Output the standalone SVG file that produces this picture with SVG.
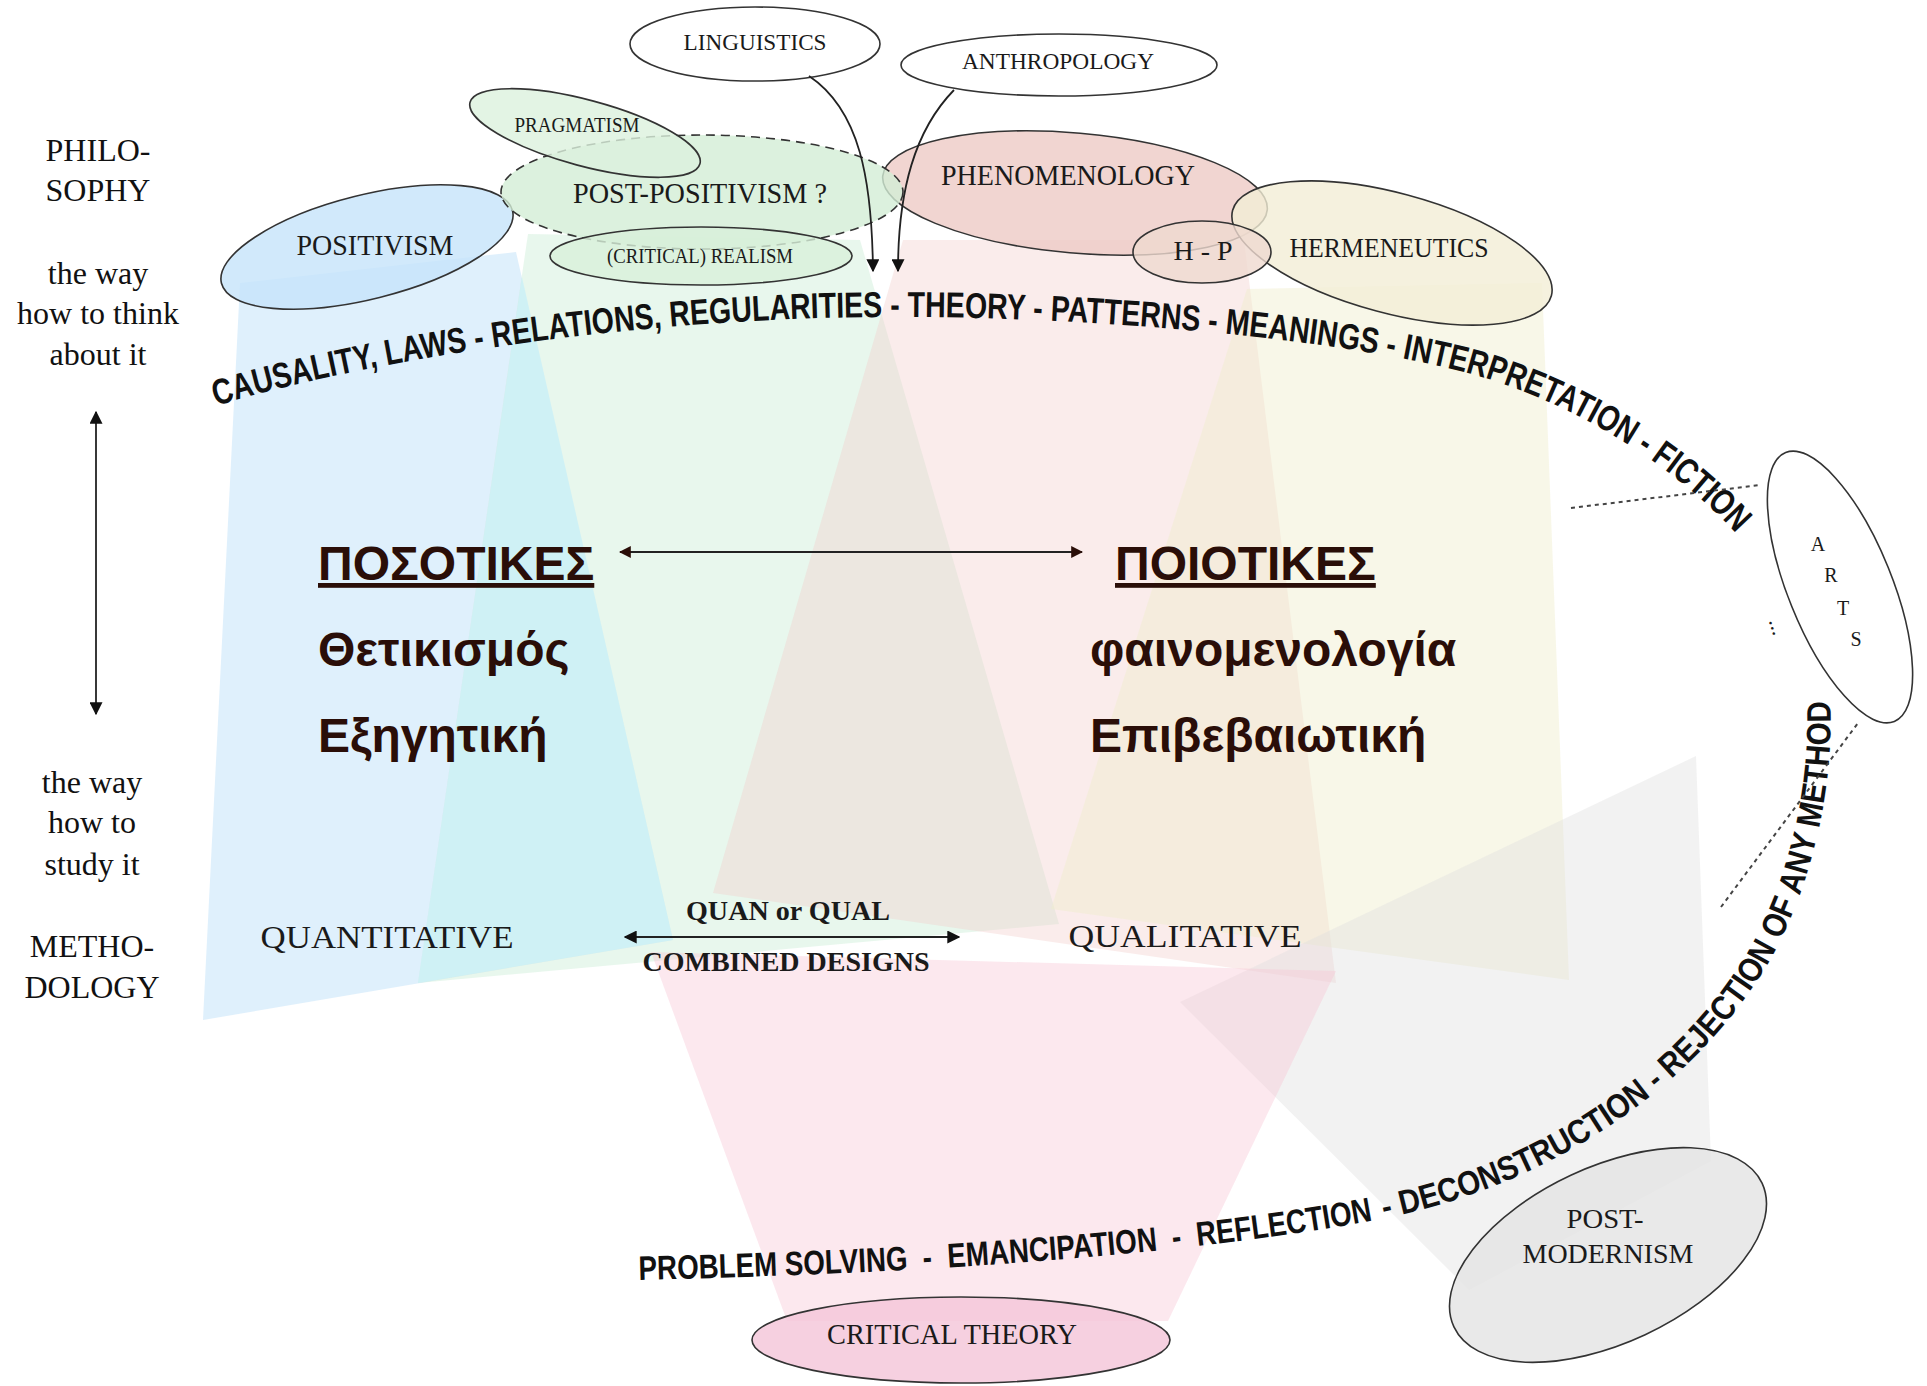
<svg xmlns="http://www.w3.org/2000/svg" width="1927" height="1386" viewBox="0 0 1927 1386">
<style>
.serif{font-family:"Liberation Serif","Times New Roman",serif;fill:#1a1a1a;text-anchor:middle}
.side{font-family:"Liberation Serif","Times New Roman",serif;font-size:32px;fill:#111;text-anchor:middle}
.greek{font-family:"Liberation Sans",Arial,sans-serif;font-weight:bold;font-size:48px;fill:#2a0e08}
.ul{text-decoration:underline}
.arc{font-family:"Liberation Sans",Arial,sans-serif;font-weight:bold;fill:#111}
.node{stroke:#333;stroke-width:1.6;fill-opacity:0.8}
.conn{fill:none;stroke:#222;stroke-width:1.8}
.dot{fill:none;stroke:#444;stroke-width:2;stroke-dasharray:4 4}
.beam{stroke:none}
</style>
<defs>
<marker id="ah" viewBox="0 0 10 10" refX="9" refY="5" markerWidth="13" markerHeight="13" markerUnits="userSpaceOnUse" orient="auto-start-reverse"><path d="M0,0 L10,5 L0,10 z" fill="#111"/></marker>
<marker id="ahb" viewBox="0 0 10 10" refX="9" refY="5" markerWidth="12" markerHeight="12" markerUnits="userSpaceOnUse" orient="auto-start-reverse"><path d="M0,0 L10,5 L0,10 z" fill="#2a0e08"/></marker>
<path id="arcTop" d="M216,406 C330,370 600,318 885,317 C1100,316 1350,340 1475,375 C1580,405 1680,470 1739,537"/>
<path id="arcBottom1" d="M639,1280 C850,1275 1150,1262 1376,1220"/>
<path id="arcBottom2" d="M1376,1220 C1560,1185 1700,1080 1770,960 C1815,880 1835,780 1830,690"/>
</defs>
<rect width="1927" height="1386" fill="#fff"/>

<g id="beams">
<polygon class="beam" points="240,283 516,252 673,940 203,1020" fill="#bfe1f9" opacity="0.5"/>
<polygon class="beam" points="528,234 860,240 1059,924 418,983" fill="#cdeed6" opacity="0.45"/>
<polygon class="beam" points="522,277 673,940 418,983" fill="#c8f4ff" opacity="0.5"/>
<polygon class="beam" points="903,240 1244,240 1336,983 713,893" fill="#f2cdca" opacity="0.38"/>
<polygon class="beam" points="1247,289 1542,283 1569,980 1051,909" fill="#f0eecc" opacity="0.45"/>
<polygon class="beam" points="1180,1002 1696,756 1711,1161 1469,1290" fill="#dedede" opacity="0.4"/>
<polygon class="beam" points="651,952 1336,971 1168,1321 787,1321" fill="#f7c6d5" opacity="0.4"/>
</g>

<g id="side-labels">
<text class="side" x="98" y="161">PHILO-</text>
<text class="side" x="98" y="201">SOPHY</text>
<text class="side" x="98" y="284">the way</text>
<text class="side" x="98" y="324">how to think</text>
<text class="side" x="98" y="365">about it</text>
<text class="side" x="92" y="793">the way</text>
<text class="side" x="92" y="833">how to</text>
<text class="side" x="92" y="875">study it</text>
<text class="side" x="92" y="957" font-size="33">METHO-</text>
<text class="side" x="92" y="998" font-size="33">DOLOGY</text>
</g>

<g id="node-linguistics">
<ellipse class="node" cx="755" cy="44" rx="125" ry="37" fill="#fff"/>
<text class="serif" x="755" y="50" font-size="24" textLength="143" lengthAdjust="spacingAndGlyphs">LINGUISTICS</text>
</g>
<g id="node-anthropology">
<ellipse class="node" cx="1059" cy="65" rx="158" ry="31" fill="#fff"/>
<text class="serif" x="1058" y="69" font-size="24" textLength="192" lengthAdjust="spacingAndGlyphs">ANTHROPOLOGY</text>
</g>
<g id="node-positivism">
<ellipse class="node" cx="367" cy="247" rx="150" ry="52" transform="rotate(-14 367 247)" fill="#c6e4fa"/>
<text class="serif" x="375" y="255" font-size="30" textLength="157" lengthAdjust="spacingAndGlyphs">POSITIVISM</text>
</g>
<g id="node-phenomenology">
<ellipse class="node" cx="1075" cy="193" rx="193" ry="60" transform="rotate(5 1075 193)" fill="#eecac6"/>
<text class="serif" x="1068" y="185" font-size="30" textLength="254" lengthAdjust="spacingAndGlyphs">PHENOMENOLOGY</text>
</g>
<g id="node-post-positivism">
<ellipse class="node" cx="702" cy="192" rx="201" ry="57" fill="#d3eed6" stroke-dasharray="9 6"/>
<text class="serif" x="700" y="203" font-size="29" textLength="254" lengthAdjust="spacingAndGlyphs">POST-POSITIVISM ?</text>
</g>
<g id="node-pragmatism">
<ellipse class="node" cx="585" cy="133" rx="119" ry="33" transform="rotate(15 585 133)" fill="#dcf1dd" fill-opacity="0.6"/>
<text class="serif" x="577" y="132" font-size="21" textLength="125" lengthAdjust="spacingAndGlyphs">PRAGMATISM</text>
</g>
<g id="node-realism">
<ellipse class="node" cx="701" cy="256" rx="151" ry="29" fill="#d8f0da" fill-opacity="0.6"/>
<text class="serif" x="700" y="263" font-size="21" textLength="186" lengthAdjust="spacingAndGlyphs">(CRITICAL) REALISM</text>
</g>
<g id="node-hermeneutics">
<ellipse class="node" cx="1392" cy="253" rx="165" ry="60" transform="rotate(15 1392 253)" fill="#f2eed6"/>
<text class="serif" x="1389" y="257" font-size="27" textLength="199" lengthAdjust="spacingAndGlyphs">HERMENEUTICS</text>
</g>
<g id="node-hp">
<ellipse class="node" cx="1202" cy="252" rx="69" ry="31" fill="#efd9cf" fill-opacity="1"/>
<text class="serif" x="1203" y="260" font-size="28" textLength="59" lengthAdjust="spacingAndGlyphs">H - P</text>
</g>
<g id="node-arts">
<ellipse class="node" cx="1840" cy="587" rx="145" ry="52" transform="rotate(68 1840 587)" fill="#fff" fill-opacity="0"/>
<text class="serif" x="1818" y="551" font-size="20">A</text>
<text class="serif" x="1831" y="582" font-size="20">R</text>
<text class="serif" x="1843" y="615" font-size="20">T</text>
<text class="serif" x="1856" y="646" font-size="20">S</text>
<text class="serif" x="1776" y="632" font-size="22" transform="rotate(72 1776 627)">...</text>
</g>
<g id="node-postmodernism">
<ellipse class="node" cx="1608" cy="1255" rx="170" ry="88" transform="rotate(-25 1608 1255)" fill="#e3e3e3"/>
<text class="serif" x="1605" y="1228" font-size="27" textLength="77" lengthAdjust="spacingAndGlyphs">POST-</text>
<text class="serif" x="1608" y="1263" font-size="27" textLength="171" lengthAdjust="spacingAndGlyphs">MODERNISM</text>
</g>
<g id="node-critical-theory">
<ellipse class="node" cx="961" cy="1340" rx="209" ry="43" fill="#f4c4d8"/>
<text class="serif" x="952" y="1344" font-size="29" textLength="250" lengthAdjust="spacingAndGlyphs">CRITICAL THEORY</text>
</g>

<g id="methods">
<text class="serif" x="387" y="948" font-size="31" textLength="253" lengthAdjust="spacingAndGlyphs">QUANTITATIVE</text>
<text class="serif" x="1185" y="947" font-size="31" textLength="233" lengthAdjust="spacingAndGlyphs">QUALITATIVE</text>
<text class="serif" x="788" y="920" font-size="28" font-weight="bold" textLength="204" lengthAdjust="spacingAndGlyphs">QUAN or QUAL</text>
<text class="serif" x="786" y="971" font-size="28" font-weight="bold" textLength="287" lengthAdjust="spacingAndGlyphs">COMBINED DESIGNS</text>
</g>

<g id="greek">
<text class="greek ul" x="318" y="580">ΠΟΣΟΤΙΚΕΣ</text>
<text class="greek" x="318" y="666">Θετικισμός</text>
<text class="greek" x="318" y="752">Εξηγητική</text>
<text class="greek ul" x="1115" y="580">ΠΟΙΟΤΙΚΕΣ</text>
<text class="greek" x="1090" y="666">φαινομενολογία</text>
<text class="greek" x="1090" y="752">Επιβεβαιωτική</text>
</g>

<g id="arc-texts">
<text class="arc" font-size="36" xml:space="preserve"><textPath href="#arcTop" textLength="1196" lengthAdjust="spacingAndGlyphs">CAUSALITY, LAWS - RELATIONS, REGULARITIES - THEORY - PATTERNS - MEANINGS - </textPath></text>
<text class="arc" font-size="36"><textPath href="#arcTop" startOffset="1196" textLength="384" lengthAdjust="spacingAndGlyphs">INTERPRETATION - FICTION</textPath></text>
<text class="arc" font-size="34" xml:space="preserve"><textPath href="#arcBottom1" textLength="737" lengthAdjust="spacingAndGlyphs">PROBLEM SOLVING  -  EMANCIPATION  -  REFLECTION</textPath></text>
<text class="arc" font-size="34" xml:space="preserve"><textPath href="#arcBottom2" textLength="331" lengthAdjust="spacingAndGlyphs"> - DECONSTRUCTION - </textPath></text>
<text class="arc" font-size="34"><textPath href="#arcBottom2" startOffset="331" textLength="424" lengthAdjust="spacingAndGlyphs">REJECTION OF ANY METHOD</textPath></text>
</g>

<g id="connectors">
<path class="conn" d="M809,76 C860,110 872,180 873,271" marker-end="url(#ah)"/>
<path class="conn" d="M954,90 C915,130 898,190 898,271" marker-end="url(#ah)"/>
<path class="conn" d="M96,412 L96,714" marker-start="url(#ah)" marker-end="url(#ah)"/>
<path class="conn" d="M620,552 L1082,552" stroke="#2a0e08" marker-start="url(#ahb)" marker-end="url(#ahb)"/>
<path class="conn" d="M625,937 L959,937" stroke-width="2.2" marker-start="url(#ah)" marker-end="url(#ah)"/>
<path class="dot" d="M1571,508 L1760,485"/>
<path class="dot" d="M1721,907 L1858,723"/>
</g>
</svg>
